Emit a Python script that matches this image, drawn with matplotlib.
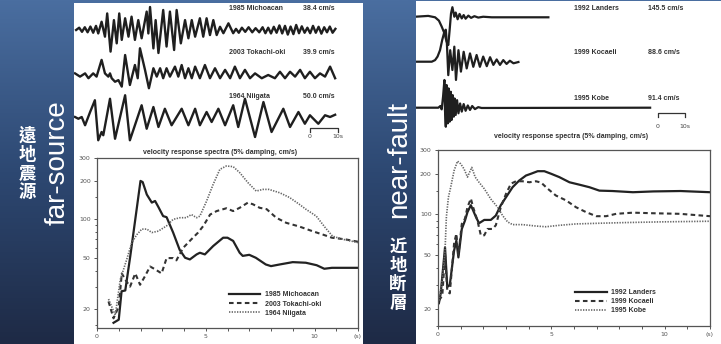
import numpy as np
import matplotlib
matplotlib.use('Agg')
import matplotlib.pyplot as plt
from matplotlib.colors import LinearSegmentedColormap
from matplotlib.patches import Rectangle

# ---------------- data ----------------
# far-source velocity traces (time s, normalised velocity)
mich_t = [0.4, 1.5, 2.5, 3.5, 4.5, 5.5, 6.5, 7.5, 8.3, 9.5, 10.7, 11.5, 12.7, 13.9, 14.9, 15.8, 16.7, 17.9,
          19.1, 20.2, 21.4, 22.6, 23.8, 25.6, 26.2, 26.8, 28.0, 28.8, 29.8, 31.5, 32.7, 33.9, 35.4, 36.3,
          37.8, 39.3, 40.5, 41.7, 42.9, 44.6, 45.8, 47.0, 48.2, 49.4, 50.6, 51.8, 53.0, 54.8, 56.5, 57.5,
          58.5, 59.6, 60.8, 62, 63.3, 64.5, 65.8, 67, 68, 69, 70, 71, 72, 73, 74, 75, 76, 77, 78, 79, 80,
          81, 82, 83, 84, 85, 86, 87, 88, 89, 90, 91, 92, 93]
mich_v = [0, 0.1, -0.08, 0.12, -0.1, 0.15, -0.12, 0.18, -0.15, 0.36, -0.29, 0.72, -0.94, 0.43, -0.58, 0.72,
          -0.43, 0.51, -0.29, 0.58, -0.43, 0.43, -0.36, 0.8, -0.15, 1.0, -0.8, 0.43, -1.0, 0.87, -0.72, 0.8,
          -0.87, 0.87, -0.58, 0.43, -0.36, 0.43, -0.29, 0.51, -0.29, 0.51, -0.22, 0.43, -0.22, 0.14, -0.14,
          0.29, -0.14, 0.05, -0.12, 0.1, -0.08, 0.12, -0.1, 0.08, -0.1, 0.12, -0.14, 0.1, -0.15, 0.14, -0.12,
          0.2, -0.15, 0.18, -0.2, 0.15, -0.18, 0.22, -0.14, 0.16, -0.12, 0.1, -0.14, 0.18, -0.12, 0.14,
          -0.16, 0.12, -0.1, 0.15, -0.12, 0.05]
tok_t = [0, 1.8, 3.6, 4.8, 6.5, 7.7, 9.5, 10.7, 11.9, 12.5, 13.1, 14.3, 15.5, 16.7, 17.9, 19.6, 21.4, 22.4,
         23.2, 25.0, 26.4, 28.0, 29.2, 30.4, 31.5, 32.7, 33.9, 35.7, 36.9, 38.1, 39.3, 40.5, 41.7, 42.9,
         44.6, 46.4, 48.2, 50.0, 51.8, 53.6, 55.4, 57.1, 58.9, 60.7, 62.5, 64.3, 66.7, 69.0, 71.4, 73.2,
         75.0, 76.8, 78.6, 80.4, 82.1, 83.9, 85.7, 87.5, 89.3, 91.1, 92.9]
tok_v = [0.06, -0.06, 0.06, -0.12, 0.06, -0.06, 0.56, 0.06, -0.06, 0.06, -0.12, -0.25, -0.19, -0.43, 0.74,
         -0.37, 0.37, -0.12, 0.99, 0.19, -0.49, 0.25, -0.06, 0.25, -0.12, 0.25, -0.06, 0.31, -0.06, 0.37,
         -0.12, 0.25, -0.12, 0.31, -0.12, 0.37, -0.12, 0.25, -0.12, 0.19, -0.12, 0.31, -0.12, 0.19, -0.12,
         0.06, -0.12, 0.0, -0.12, 0.12, -0.12, 0.12, -0.06, 0.19, -0.12, 0.12, -0.12, 0.06, -0.06, 0.31, -0.12]
nii_t = [0, 1.2, 2.4, 3.6, 5.4, 7.1, 8.3, 9.5, 10.1, 12.5, 14.3, 17.9, 19.6, 23.8, 25.6, 28.0, 29.8, 32.1,
         34.5, 38.1, 40.5, 42.9, 44.6, 47.0, 48.8, 51.2, 53.6, 56.5, 58.3, 60.7, 64.3, 67.3, 70.2, 74.4,
         76.8, 79.8, 82.1, 83.9, 86.9, 89.3, 91.1, 92.9]
nii_v = [0, -0.07, 0, -0.33, 0.2, 0.67, -0.93, -0.6, -0.73, 0.73, -0.87, 0.87, -0.93, 0.47, -0.47, 0.4, -0.4,
         0.33, -0.33, 0.33, -0.33, 0.33, -0.33, 0.2, -0.2, 0.33, -0.33, 0.47, -0.4, 0.73, -0.8, 0.6, -0.6,
         0.33, -0.4, 0.2, -0.27, 0.07, -0.27, 0.07, 0, 0.09]

# near-fault velocity traces
lan_t = [0, 4.8, 7.3, 8.7, 9.7, 10.7, 11.5, 12.1, 12.6, 13.1, 13.6, 14.3, 14.8, 15.5, 16.2, 17.0, 17.7,
         18.4, 19.4, 20.4, 21.6, 23.0, 24.8, 27.9, 48.5]
lan_v = [0.02, 0.05, 0, -0.12, -0.33, -0.57, -0.87, -0.99, -0.45, 0.14, 0.36, 0.02, 0.17, -0.07, 0.12,
         -0.04, 0.08, -0.05, 0.06, -0.02, 0.04, -0.01, 0.02, 0, 0]
koc_t = [0, 6.1, 7.3, 8.2, 9.1, 9.9, 10.7, 11.2, 11.6, 12.1, 12.8, 13.6, 14.3, 14.9, 15.8, 16.7, 17.7, 18.8,
         20.0, 21.2, 22.4, 23.6, 24.8, 26.1, 27.3, 28.5, 29.7, 30.9, 32.1, 33.3, 34.5, 35.8, 37.6]
koc_v = [0, 0, 0.05, 0.16, 0.36, 0.68, 0.94, 1.0, 0.57, -0.42, 0.36, -0.26, 0.47, -0.57, 0.36, -0.31, 0.31,
         -0.21, 0.26, -0.16, 0.21, -0.16, 0.16, -0.14, 0.14, -0.1, 0.07, -0.1, 0.05, -0.07, 0.03, -0.05, -0.01]
kobe_t = [0, 8.5, 9.2, 9.7, 10.2, 10.7, 10.9, 11.2, 11.5, 11.9, 12.2, 12.6, 13.0, 13.3, 13.7, 14.1, 14.4,
          14.8, 15.3, 15.8, 16.4, 17.0, 17.7, 18.4, 19.2, 20.0, 20.8, 21.8, 23.0, 24.2, 85.5]
kobe_v = [0, 0, 0.06, -0.06, 0.39, 0.99, -0.08, -0.68, 0.81, -0.56, 0.69, -0.5, 0.57, -0.44, 0.45, -0.32,
          0.33, -0.26, 0.27, -0.2, 0.15, -0.14, 0.13, -0.11, 0.08, -0.08, 0.06, -0.05, 0.02, -0.01, 0]

far_names = ['1985 Michoacan', '2003 Tokachi-oki', '1964 Niigata']
far_pgv = ['38.4 cm/s', '39.9 cm/s', '50.0 cm/s']
near_names = ['1992 Landers', '1999 Kocaeli', '1995 Kobe']
near_pgv = ['145.5 cm/s', '88.6 cm/s', '91.4 cm/s']

# velocity response spectra (period s, cm/s)
mich_T = [0.76, 1.0, 1.13, 1.3, 1.53, 1.76, 2.0, 2.1, 2.29, 2.52, 2.67, 2.82, 3.04, 3.2, 3.5, 3.8, 4.05, 4.27,
          4.58, 4.73, 4.96, 5.34, 5.8, 6.0, 6.26, 6.56, 6.7, 7.0, 7.3, 7.76, 8.0, 8.4, 9.0, 9.6, 10.1, 10.45,
          10.8, 12.0]
mich_S = [15.7, 16.6, 27.6, 28, 51.8, 100, 199, 195, 156, 135, 139, 125, 106, 104, 79, 58, 50.3, 48.8, 53.4,
          55, 53.4, 62, 72, 72, 68, 55, 52, 53, 50.3, 44.6, 43.3, 44.6, 46.5, 46, 44, 41.3, 42, 42]
tok_T = [0.53, 0.76, 1.0, 1.14, 1.3, 1.52, 1.76, 1.98, 2.2, 2.44, 2.66, 2.97, 3.2, 3.5, 3.65, 3.96, 4.34,
         4.65, 4.89, 5.2, 5.5, 5.95, 6.26, 6.56, 6.94, 7.17, 7.48, 7.8, 8.24, 8.7, 9.3, 9.9, 10.4, 10.8,
         11.4, 12.0]
tok_S = [23, 17, 21, 38, 34, 30, 38, 31, 36, 43, 41, 38, 50, 50, 48, 60, 70, 79, 89, 109, 116, 122, 116, 123,
         135, 131, 123, 120, 103, 94, 88, 81, 76, 72, 70, 67]
nii_T = [0.53, 0.84, 1.07, 1.37, 1.6, 1.83, 2.06, 2.29, 2.52, 2.82, 3.2, 3.5, 3.82, 4.1, 4.34, 4.58, 4.73,
         5.04, 5.34, 5.65, 5.95, 6.26, 6.56, 6.94, 7.32, 7.63, 7.9, 8.4, 8.85, 9.3, 9.6, 10.08, 10.5, 10.83,
         11.3, 12.0]
nii_S = [24, 18, 34, 49, 66, 76, 84, 84, 79, 81, 89, 100, 103, 103, 109, 103, 106, 139, 187, 245, 260, 257,
         231, 193, 166, 171, 171, 161, 148, 131, 120, 106, 86, 74, 70, 66]

lan_T = [0.04, 0.12, 0.31, 0.41, 0.52, 0.71, 0.81, 0.9, 1.05, 1.19, 1.3, 1.45, 1.55, 1.67, 1.81, 2.04, 2.33,
         2.55, 2.77, 3.0, 3.29, 3.58, 3.88, 4.1, 4.4, 4.69, 4.99, 5.35, 5.8, 6.24, 6.68, 7.12, 7.7, 8.6, 9.5,
         10.7, 12.0]
lan_S = [22, 26, 57, 29, 30, 54, 64, 48, 78, 90, 104, 117, 107, 96, 86, 91, 91, 98, 117, 134, 159, 178, 194,
         200, 209, 209, 200, 189, 173, 166, 159, 150, 149, 146, 148, 149, 146]
koc_T = [0.04, 0.19, 0.31, 0.41, 0.52, 0.71, 0.81, 0.9, 1.05, 1.19, 1.3, 1.45, 1.55, 1.74, 1.89, 2.04, 2.18,
         2.4, 2.55, 2.77, 3.0, 3.22, 3.44, 3.73, 4.03, 4.32, 4.55, 4.84, 5.2, 5.65, 6.09, 6.53, 6.98, 7.42,
         7.86, 8.6, 9.48, 10.66, 12.0]
koc_S = [23, 25, 51, 27, 26, 61, 72, 50, 85, 93, 113, 131, 113, 90, 70, 70, 78, 78, 83, 113, 142, 169, 176,
         176, 173, 176, 172, 155, 138, 127, 113, 104, 97, 97, 101, 103, 102, 101, 97]
kobe_T = [0.04, 0.19, 0.31, 0.37, 0.46, 0.56, 0.71, 0.86, 1.0, 1.15, 1.3, 1.49, 1.64, 1.81, 2.04, 2.33, 2.63,
          2.85, 3.07, 3.29, 3.73, 4.32, 4.76, 5.35, 6.09, 7.12, 8.3, 9.78, 12.0]
kobe_S = [23, 33, 54, 96, 134, 159, 211, 248, 237, 217, 189, 223, 189, 173, 155, 130, 113, 98, 88, 84, 84, 82,
          81, 83, 85, 86, 87, 88, 89]

y_ticks = [20, 50, 100, 200, 300]
x_ticks = list(range(13))
x_ticklabels = ['0', '', '', '', '', '5', '', '', '', '', '10', '', '(s)']
spec_title = 'velocity response spectra (5% damping, cm/s)'

# ---------------- figure ----------------
W, H = 721, 344
fig = plt.figure(figsize=(W / 100, H / 100), dpi=100)


def rect(x0, y0, x1, y1):
    return [x0 / W, 1 - y1 / H, (x1 - x0) / W, (y1 - y0) / H]


bg = fig.add_axes([0, 0, 1, 1])
grad = np.linspace(0, 1, 256).reshape(-1, 1)
cmap = LinearSegmentedColormap.from_list('bg', ['#4a6ea0', '#2d4872', '#1e2a45'])
bg.imshow(grad, extent=[0, W, H, 0], aspect='auto', cmap=cmap, zorder=0)
bg.set_xlim(0, W)
bg.set_ylim(H, 0)
bg.axis('off')
bg.add_patch(Rectangle((74, 3), 289, 345, facecolor='white', edgecolor='none', zorder=1))
bg.add_patch(Rectangle((416, 1), 310, 345, facecolor='white', edgecolor='none', zorder=1))

# side titles
bg.text(58, 163, 'far-source', rotation=90, color='white', fontsize=20, family='Liberation Sans',
        ha='center', va='center', zorder=3)
bg.text(399, 160, 'near-fault', rotation=90, color='white', fontsize=20, family='Liberation Sans',
        ha='center', va='center', zorder=3)
bg.text(27, 164, '遠\n地\n震\n源', color='white', fontsize=12.5, fontweight='bold',
        family=['Noto Sans CJK TC'], ha='center', va='center', linespacing=1.05, zorder=3)
bg.text(398, 275, '近\n地\n断\n層', color='white', fontsize=12.5, fontweight='bold',
        family=['Noto Sans CJK JP'], ha='center', va='center', linespacing=1.05, zorder=3)

lab_kw = dict(fontsize=5, fontweight='bold', color='#333333', family='Liberation Sans', va='center', zorder=3)
for name, pgv, yy in zip(far_names, far_pgv, [9, 52, 96]):
    bg.text(229, yy, name, **lab_kw)
    bg.text(303, yy, pgv, **lab_kw)
for name, pgv, yy in zip(near_names, near_pgv, [9, 53, 98]):
    bg.text(574, yy, name, **lab_kw)
    bg.text(648, yy, pgv, **lab_kw)

# scale bars
for x0, x1, yb, yl in [(310, 338, 128, 137), (658, 685, 113, 127)]:
    bg.plot([x0, x0, x1, x1], [yb + 4, yb, yb, yb + 4], color='#333333', lw=0.9, zorder=3)
    bg.text(x0, yl, '0', fontsize=4.5, color='#444444', ha='center', va='center', zorder=3)
    bg.text(x1, yl, '10s', fontsize=4.5, color='#444444', ha='center', va='center', zorder=3)

bg.text(220, 152, spec_title, fontsize=5, fontweight='bold', color='#333333', ha='center', va='center',
        family='Liberation Sans', zorder=3)
bg.text(571, 137, spec_title, fontsize=5, fontweight='bold', color='#333333', ha='center', va='center',
        family='Liberation Sans', zorder=3)


# ---------------- waveforms ----------------
def wave_ax(x0px, x1px, base, half, scale, t0px, pps):
    ax = fig.add_axes(rect(x0px, base - half, x1px, base + half))
    ax.set_xlim((x0px - t0px) / pps, (x1px - t0px) / pps)
    ax.set_ylim(-half / scale, half / scale)
    ax.axis('off')
    return ax


for t, v, base, scale in [(mich_t, mich_v, 30, 23), (tok_t, tok_v, 75, 27), (nii_t, nii_v, 117, 25)]:
    a = wave_ax(74, 363, base, 30, scale, 75, 2.8)
    a.plot(t, v, color='#1f1f1f', lw=1.7, solid_joinstyle='round')

for t, v, base, scale in [(lan_t, lan_v, 17.3, 28), (koc_t, koc_v, 61.7, 32), (kobe_t, kobe_v, 107.7, 28)]:
    a = wave_ax(416, 721, base, 34, scale, 415, 2.75)
    a.plot(t, v, color='#1f1f1f', lw=1.6, solid_joinstyle='round')


# ---------------- spectra ----------------
def spec_ax(r, ybot):
    ax = fig.add_axes(r)
    ax.set_yscale('log')
    ax.set_xlim(0, 12)
    ax.set_ylim(ybot, 300)
    ax.set_yticks(y_ticks)
    ax.set_yticklabels([str(v) for v in y_ticks])
    ax.set_yticks([15, 30, 40, 60, 70, 80, 90, 150], minor=True)
    ax.yaxis.set_minor_formatter(matplotlib.ticker.NullFormatter())
    ax.set_xticks(x_ticks)
    ax.set_xticklabels(x_ticklabels)
    ax.tick_params(axis='both', which='both', labelsize=4.5, colors='#555555', length=2.5, width=0.7, pad=2)
    ax.tick_params(axis='y', which='minor', length=1.8)
    for s in ax.spines.values():
        s.set_color('#555555')
        s.set_linewidth(0.9)
    return ax


def add_legend(ax):
    leg = ax.legend(loc='lower left', bbox_to_anchor=(0.48, 0.03), frameon=False, handlelength=4.6,
                    labelspacing=0.3, handletextpad=0.6,
                    prop={'family': 'Liberation Sans', 'weight': 'bold', 'size': 5})
    for txt in leg.get_texts():
        txt.set_color('#333333')


axl = spec_ax(rect(97, 158, 358, 328), 14.3)
axl.plot(mich_T, mich_S, color='#222222', lw=1.6, label=far_names[0])
axl.plot(tok_T, tok_S, color='#333333', lw=1.5, ls=(0, (2.2, 1.6)), label=far_names[1])
axl.plot(nii_T, nii_S, color='#666666', lw=1.2, ls=(0, (0.8, 0.8)), label=far_names[2])
add_legend(axl)

axr = spec_ax(rect(438, 150, 710, 326), 14.9)
axr.plot(lan_T, lan_S, color='#222222', lw=1.6, label=near_names[0])
axr.plot(koc_T, koc_S, color='#333333', lw=1.5, ls=(0, (2.2, 1.6)), label=near_names[1])
axr.plot(kobe_T, kobe_S, color='#666666', lw=1.2, ls=(0, (0.8, 0.8)), label=near_names[2])
add_legend(axr)

fig.savefig('out.png', dpi=100)
